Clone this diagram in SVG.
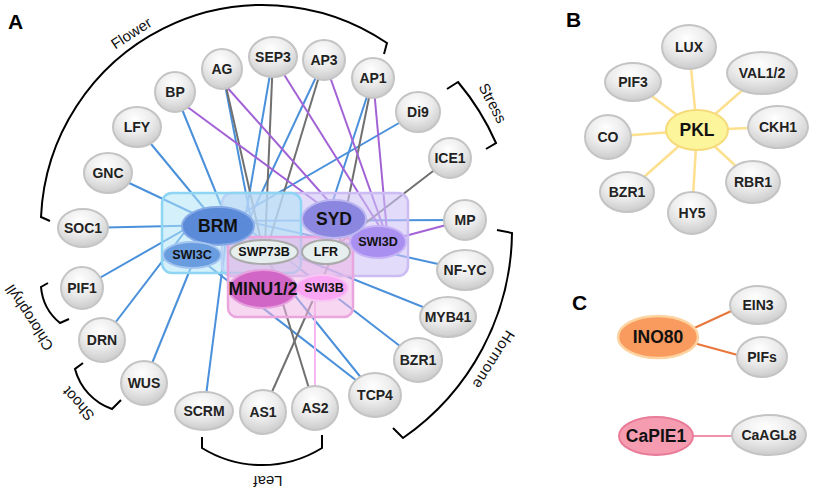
<svg xmlns="http://www.w3.org/2000/svg" width="828" height="498" viewBox="0 0 828 498">
<style>
.o{fill:url(#gg);stroke:#c4c4c4;stroke-width:2}
.t{font-family:"Liberation Sans",Arial,sans-serif;font-weight:bold;font-size:14px;fill:#222;text-anchor:middle;dominant-baseline:central}
.ti{font-family:"Liberation Sans",Arial,sans-serif;font-weight:bold;font-size:12.5px;fill:#111;text-anchor:middle;dominant-baseline:central}
.tb{font-family:"Liberation Sans",Arial,sans-serif;font-weight:bold;font-size:17.5px;fill:#111;text-anchor:middle;dominant-baseline:central}
.lab{font-family:"Liberation Sans",Arial,sans-serif;font-size:15px;fill:#111;text-anchor:middle;dominant-baseline:central}
.pl{font-family:"Liberation Sans",Arial,sans-serif;font-weight:bold;font-size:21px;fill:#000}
.b{stroke:#4a90db;stroke-width:2;fill:none}
.g{stroke:#707070;stroke-width:2;fill:none}
.p{stroke:#a262d6;stroke-width:2;fill:none}
.k{stroke:#f9b6f2;stroke-width:2;fill:none}
.y{stroke:#fde08e;stroke-width:2.5;fill:none}
.br{stroke:#000;stroke-width:2;fill:none}
</style>
<defs>
<radialGradient id="gg" cx="0.45" cy="0.3" r="0.8">
<stop offset="0" stop-color="#ffffff"/>
<stop offset="0.45" stop-color="#ececec"/>
<stop offset="1" stop-color="#c2c2c2"/>
</radialGradient>
</defs>
<rect width="828" height="498" fill="#fff"/>

<text class="pl" x="8" y="29">A</text>
<text class="pl" x="566" y="27">B</text>
<text class="pl" x="572" y="310">C</text>

<g id="brackets">
<path class="br" d="M50,221 L41,217 A222,222 0 0 1 387,43 L384,54"/>
<path class="br" d="M447,89 L458,82 A252,252 0 0 1 496,143 L486,149"/>
<path class="br" d="M497,230 L512,233 A253,253 0 0 1 403,438 L393,428"/>
<path class="br" d="M202,437 L202,448 A114,114 0 0 0 322,448 L322,435"/>
<path class="br" d="M83,363 L75,369 A58,58 0 0 0 112,409 L121,400"/>
<path class="br" d="M48,283 L41,287 A52,52 0 0 0 60,323 L69,319"/>
<text class="lab" transform="translate(131,33) rotate(-33)">Flower</text>
<text class="lab" transform="translate(493,103) rotate(62)">Stress</text>
<text class="lab" letter-spacing="0.6" transform="translate(494,360) rotate(122)">Hormone</text>
<text class="lab" transform="translate(268,481) rotate(180)">Leaf</text>
<text class="lab" transform="translate(78,404) rotate(-132)">Shoot</text>
<text class="lab" transform="translate(29,318) rotate(-123)">Chlorophyll</text>
</g>

<g id="connectors">
<line class="b" x1="108" y1="173" x2="218" y2="225"/>
<line class="b" x1="137" y1="127" x2="218" y2="225"/>
<line class="b" x1="175" y1="92" x2="225" y2="215"/>
<line class="b" x1="222" y1="69" x2="252" y2="225"/>
<line class="b" x1="273" y1="57" x2="244" y2="225"/>
<line class="b" x1="324" y1="60" x2="248" y2="222"/>
<line class="b" x1="418" y1="112" x2="240" y2="215"/>
<line class="b" x1="83" y1="228" x2="218" y2="225"/>
<line class="b" x1="82" y1="288" x2="210" y2="215"/>
<line class="b" x1="102" y1="340" x2="190" y2="225"/>
<line class="b" x1="144" y1="383" x2="196" y2="255"/>
<line class="b" x1="204" y1="411" x2="226" y2="240"/>
<line class="b" x1="375" y1="395" x2="192" y2="253"/>
<line class="b" x1="375" y1="395" x2="230" y2="215"/>
<line class="b" x1="418" y1="360" x2="230" y2="215"/>
<line class="b" x1="448" y1="317" x2="218" y2="225"/>
<line class="b" x1="465" y1="270" x2="218" y2="215"/>
<line class="b" x1="465" y1="220" x2="218" y2="221"/>
<line class="b" x1="373" y1="78" x2="325" y2="225"/>
<line class="g" x1="222" y1="69" x2="262" y2="245"/>
<line class="g" x1="273" y1="57" x2="265" y2="245"/>
<line class="g" x1="324" y1="60" x2="268" y2="245"/>
<line class="g" x1="315" y1="408" x2="268" y2="255"/>
<line class="g" x1="373" y1="78" x2="338" y2="250"/>
<line class="g" x1="450" y1="158" x2="328" y2="252"/>
<line class="g" x1="263" y1="412" x2="333" y2="255"/>
<line class="p" x1="178" y1="100" x2="330" y2="212"/>
<line class="p" x1="225" y1="85" x2="340" y2="214"/>
<line class="p" x1="273" y1="57" x2="383" y2="232"/>
<line class="p" x1="324" y1="60" x2="385" y2="232"/>
<line class="p" x1="373" y1="78" x2="387" y2="232"/>
<line class="p" x1="465" y1="220" x2="390" y2="240"/>
<line class="k" x1="315" y1="390" x2="315" y2="290"/>
<line class="y" x1="697" y1="130" x2="689" y2="47"/>
<line class="y" x1="697" y1="130" x2="762" y2="73"/>
<line class="y" x1="697" y1="130" x2="633" y2="82"/>
<line class="y" x1="697" y1="130" x2="608" y2="137"/>
<line class="y" x1="697" y1="130" x2="778" y2="127"/>
<line class="y" x1="697" y1="130" x2="627" y2="192"/>
<line class="y" x1="697" y1="130" x2="753" y2="182"/>
<line class="y" x1="697" y1="130" x2="692" y2="213"/>
<line stroke="#e8763a" stroke-width="2" x1="690" y1="330" x2="740" y2="307"/>
<line stroke="#e8763a" stroke-width="2" x1="690" y1="342" x2="745" y2="357"/>
<line stroke="#ee93ab" stroke-width="2" x1="690" y1="436" x2="740" y2="436"/>
</g>

<g id="complexes">
<rect x="222" y="193" width="186" height="83" rx="10" fill="#cfc3f5" fill-opacity="0.6" stroke="#cbbdf4" stroke-width="2.5"/>
<rect x="162" y="193" width="139" height="80" rx="10" fill="#aee3f8" fill-opacity="0.55" stroke="#8dd5f3" stroke-width="2.5"/>
<rect x="228" y="237" width="125" height="80" rx="9" fill="#eeb4e4" fill-opacity="0.55" stroke="#eaa5de" stroke-width="2.5"/>
</g>

<g id="n-BRM"><ellipse cx="218" cy="226" rx="36" ry="19" fill="#5b8ad8" stroke="#85aae6" stroke-width="2"/><text class="tb" x="218" y="226" font-size="18">BRM</text></g>
<g id="n-SWI3C"><ellipse cx="192" cy="255" rx="29" ry="13" fill="#6a9de0" stroke="#a4c5ef" stroke-width="2"/><text class="ti" x="192" y="255">SWI3C</text></g>
<g id="n-SWP73B"><ellipse cx="264" cy="252" rx="34" ry="12" fill="#e6eeee" stroke="#aaaaaa" stroke-width="2"/><text class="ti" x="264" y="252">SWP73B</text></g>
<g id="n-LFR"><ellipse cx="326" cy="252" rx="24" ry="12" fill="#e6eeee" stroke="#aaaaaa" stroke-width="2"/><text class="ti" x="326" y="252">LFR</text></g>
<g id="n-SWI3D"><ellipse cx="378" cy="242" rx="28" ry="16" fill="#a98ff0" stroke="#c7b4f6" stroke-width="2"/><text class="ti" x="378" y="242">SWI3D</text></g>
<g id="n-SYD"><ellipse cx="334" cy="219" rx="32" ry="19" fill="#8b87e0" stroke="#bcb7f0" stroke-width="2"/><text class="tb" x="334" y="219" font-size="18">SYD</text></g>
<g id="n-SWI3B"><ellipse cx="322" cy="288" rx="26" ry="13" fill="#fba6f5" stroke="#f8c6f3" stroke-width="2"/><text class="ti" x="324" y="288">SWI3B</text></g>
<g id="n-MINU12"><ellipse cx="263" cy="289" rx="34" ry="19" fill="#d266c6" stroke="#e6a0de" stroke-width="2"/><text class="tb" x="263" y="289" font-size="17">MINU1/2</text></g>

<g id="n-AG"><ellipse class="o" cx="222" cy="69" rx="20" ry="20"/><text class="t" x="222" y="69">AG</text></g>
<g id="n-SEP3"><ellipse class="o" cx="273" cy="57" rx="24" ry="20"/><text class="t" x="273" y="57">SEP3</text></g>
<g id="n-AP3"><ellipse class="o" cx="324" cy="60" rx="21" ry="20"/><text class="t" x="324" y="60">AP3</text></g>
<g id="n-AP1"><ellipse class="o" cx="373" cy="78" rx="21" ry="20"/><text class="t" x="373" y="78">AP1</text></g>
<g id="n-BP"><ellipse class="o" cx="175" cy="92" rx="20" ry="20"/><text class="t" x="175" y="92">BP</text></g>
<g id="n-LFY"><ellipse class="o" cx="137" cy="127" rx="24" ry="20"/><text class="t" x="137" y="127">LFY</text></g>
<g id="n-GNC"><ellipse class="o" cx="108" cy="173" rx="24" ry="20"/><text class="t" x="108" y="173">GNC</text></g>
<g id="n-SOC1"><ellipse class="o" cx="83" cy="228" rx="25" ry="19"/><text class="t" x="83" y="228">SOC1</text></g>
<g id="n-PIF1"><ellipse class="o" cx="82" cy="288" rx="21" ry="21"/><text class="t" x="82" y="288">PIF1</text></g>
<g id="n-DRN"><ellipse class="o" cx="102" cy="340" rx="23" ry="22"/><text class="t" x="102" y="340">DRN</text></g>
<g id="n-WUS"><ellipse class="o" cx="144" cy="383" rx="23" ry="22"/><text class="t" x="144" y="383">WUS</text></g>
<g id="n-SCRM"><ellipse class="o" cx="204" cy="411" rx="29" ry="19"/><text class="t" x="204" y="411">SCRM</text></g>
<g id="n-AS1"><ellipse class="o" cx="263" cy="412" rx="23" ry="22"/><text class="t" x="263" y="412">AS1</text></g>
<g id="n-AS2"><ellipse class="o" cx="315" cy="408" rx="23" ry="22"/><text class="t" x="315" y="408">AS2</text></g>
<g id="n-TCP4"><ellipse class="o" cx="375" cy="395" rx="26" ry="22"/><text class="t" x="375" y="395">TCP4</text></g>
<g id="n-BZR1"><ellipse class="o" cx="418" cy="360" rx="24" ry="22"/><text class="t" x="418" y="360">BZR1</text></g>
<g id="n-MYB41"><ellipse class="o" cx="448" cy="317" rx="28" ry="20"/><text class="t" x="448" y="317">MYB41</text></g>
<g id="n-NFYC"><ellipse class="o" cx="465" cy="270" rx="28" ry="20"/><text class="t" x="465" y="270">NF-YC</text></g>
<g id="n-MP"><ellipse class="o" cx="465" cy="220" rx="21" ry="20"/><text class="t" x="465" y="220">MP</text></g>
<g id="n-ICE1"><ellipse class="o" cx="450" cy="158" rx="21" ry="20"/><text class="t" x="450" y="158">ICE1</text></g>
<g id="n-Di9"><ellipse class="o" cx="418" cy="112" rx="22" ry="20"/><text class="t" x="418" y="112">Di9</text></g>

<g id="n-PKL"><ellipse cx="697" cy="130" rx="31" ry="20" fill="#fdf59c" stroke="#f6db7c" stroke-width="2"/><text class="tb" x="697" y="130">PKL</text></g>
<g id="n-LUX"><ellipse class="o" cx="689" cy="47" rx="27" ry="22"/><text class="t" x="689" y="47" font-size="14.5">LUX</text></g>
<g id="n-VAL"><ellipse class="o" cx="762" cy="73" rx="35" ry="21"/><text class="t" x="762" y="73" font-size="14.5">VAL1/2</text></g>
<g id="n-PIF3"><ellipse class="o" cx="633" cy="82" rx="28" ry="19"/><text class="t" x="633" y="82" font-size="14.5">PIF3</text></g>
<g id="n-CO"><ellipse class="o" cx="608" cy="137" rx="23" ry="22"/><text class="t" x="608" y="137" font-size="14.5">CO</text></g>
<g id="n-CKH1"><ellipse class="o" cx="778" cy="127" rx="30" ry="21"/><text class="t" x="778" y="127" font-size="14.5">CKH1</text></g>
<g id="n-BZR1b"><ellipse class="o" cx="627" cy="192" rx="27" ry="20"/><text class="t" x="627" y="192" font-size="14.5">BZR1</text></g>
<g id="n-RBR1"><ellipse class="o" cx="753" cy="182" rx="27" ry="21"/><text class="t" x="753" y="182" font-size="14.5">RBR1</text></g>
<g id="n-HY5"><ellipse class="o" cx="692" cy="213" rx="24" ry="21"/><text class="t" x="692" y="213" font-size="14.5">HY5</text></g>

<g id="n-INO80"><ellipse cx="658" cy="337" rx="40" ry="21" fill="#f99a5e" stroke="#fdd3a0" stroke-width="2.5"/><text class="tb" x="658" y="337" font-size="16.5">INO80</text></g>
<g id="n-EIN3"><ellipse class="o" cx="758" cy="305" rx="28" ry="19"/><text class="t" x="758" y="305" font-size="14.5">EIN3</text></g>
<g id="n-PIFs"><ellipse class="o" cx="762" cy="357" rx="25" ry="20"/><text class="t" x="762" y="357" font-size="14.5">PIFs</text></g>
<g id="n-CaPIE1"><ellipse cx="656" cy="436" rx="37" ry="19" fill="#f59cb1" stroke="#e87b97" stroke-width="2"/><text class="tb" x="656" y="436" font-size="15.5">CaPIE1</text></g>
<g id="n-CaAGL8"><ellipse class="o" cx="769" cy="435" rx="37" ry="20"/><text class="t" x="769" y="435" font-size="14.5">CaAGL8</text></g>
</svg>
